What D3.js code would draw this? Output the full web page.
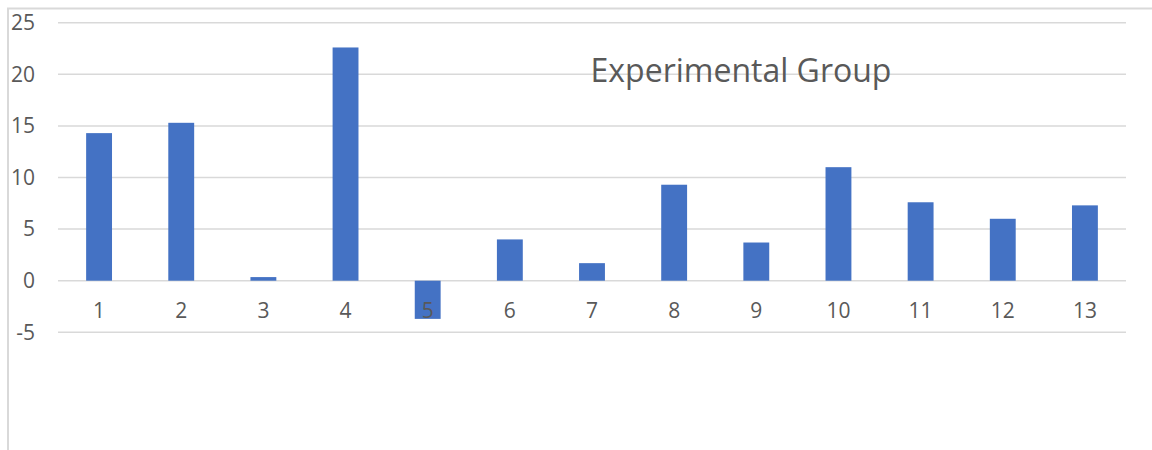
<!DOCTYPE html>
<html>
<head>
<meta charset="utf-8">
<script src="https://cdn.jsdelivr.net/npm/d3@7"></script>
<style>
  html, body { margin: 0; padding: 0; background: #fff; }
  svg { display: block; }
  text { font-family: "Open Sans", "Noto Sans", sans-serif; fill: #595959; }
</style>
</head>
<body>
<script>
// Experimental group scores per subject
const categories = ["1","2","3","4","5","6","7","8","9","10","11","12","13"];
const values = [14.3, 15.3, 0.35, 22.6, -3.7, 4.0, 1.7, 9.3, 3.7, 11.0, 7.6, 6.0, 7.3];
const yTicks = [-5, 0, 5, 10, 15, 20, 25];
const chartTitle = "Experimental Group";

const W = 1152, H = 450;
const plot = { left: 58, right: 1126, top: 22.7, bottom: 332.3 };

const svg = d3.select("body").append("svg")
  .attr("width", W).attr("height", H);

// outer chart frame (runs off the right and bottom edges)
svg.append("path")
  .attr("d", `M8,${H + 5} L8,8.5 L${W + 5},8.5`)
  .attr("fill", "none")
  .attr("stroke", "#d9d9d9")
  .attr("stroke-width", 2);

const x = d3.scaleBand()
  .domain(categories)
  .range([plot.left, plot.right])
  .paddingInner(0.685)
  .paddingOuter(0.3425);

const y = d3.scaleLinear()
  .domain([-5, 25])
  .range([plot.bottom, plot.top]);

// horizontal gridlines
svg.append("g")
  .selectAll("line")
  .data(yTicks)
  .join("line")
  .attr("x1", plot.left).attr("x2", plot.right)
  .attr("y1", d => y(d)).attr("y2", d => y(d))
  .attr("stroke", "#d9d9d9")
  .attr("stroke-width", 1.5);

// y tick labels (plain hyphen for negatives)
const yAxis = d3.axisLeft(y).tickValues(yTicks).tickFormat(d => String(d))
  .tickSize(0).tickPadding(0);
const gy = svg.append("g")
  .attr("transform", "translate(35,0)")
  .call(yAxis);
gy.select(".domain").remove();
gy.selectAll("text")
  .attr("font-size", 21)
  .attr("fill", "#595959")
  .attr("font-family", "'Open Sans', 'Noto Sans', sans-serif");

// bars
svg.append("g")
  .selectAll("rect")
  .data(values)
  .join("rect")
  .attr("x", (d, i) => x(categories[i]))
  .attr("width", x.bandwidth())
  .attr("y", d => y(Math.max(0, d)))
  .attr("height", d => Math.abs(y(d) - y(0)))
  .attr("fill", "#4472c4");

// category labels just below the zero line
const xAxis = d3.axisBottom(x).tickSize(0).tickPadding(0);
const gx = svg.append("g")
  .attr("transform", `translate(0,${y(0) + 31})`)
  .call(xAxis);
gx.select(".domain").remove();
gx.selectAll("text")
  .attr("font-size", 21)
  .attr("dy", "0.32em")
  .attr("fill", "#595959")
  .attr("font-family", "'Open Sans', 'Noto Sans', sans-serif");

// title placed inside the plot area
svg.append("text")
  .attr("x", 741)
  .attr("y", 82)
  .attr("text-anchor", "middle")
  .attr("font-size", 32)
  .text(chartTitle);
</script>
</body>
</html>
